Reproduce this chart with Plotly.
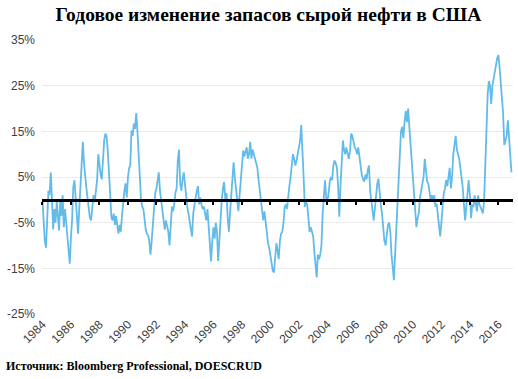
import plotly.graph_objects as go
import pandas as pd

start_year = 1984
# Monthly readings (Jan..Dec) of the y/y change in US crude inventories, %
v1984 = [0, -4, -9, -10.5, -3, 2, 1, 6, 0, -6.5, -2, -5]
v1985 = [-0.5, -4, -6.7, 0, -3.5, 1, -6, -2, -5.5, -8, -11, -14]
v1986 = [-8, -4, 2.8, 4.3, 0.5, -5, -7.4, -2, 4, 8.6, 12.7, 8]
v1987 = [4.5, 2.5, 0.5, -2, -4, -4.5, -1.5, 1, -0.5, 1.5, 4.3, 10]
v1988 = [7, 5.5, 4.5, 9.4, 13, 14.5, 14, 10.8, 7, 1.5, -3.7, -4.5]
v1989 = [-3, -5.5, -3.5, -6, -7.4, -5.5, -7, -3.5, 0, 2, 3.6, 0.5]
v1990 = [5, 7, 7.5, 15.2, 14, 16.7, 15.5, 19, 15, 11, 5, 0]
v1991 = [-1.5, -2, -4.5, -6.5, -7.4, -7.8, -9, -12, -9, -5.5, -2, 1.5]
v1992 = [2.5, 4, 6, 2, 0, -2, -4, -6.5, -4.5, -5.5, -7, -10]
v1993 = [-4, -1.5, -2.5, -1, 1.5, 2.5, 8.6, 11, 3.5, 2, 4.5, 6]
v1994 = [3.5, 0, -1.5, -3, -5, -6.5, -8, -3, -0.5, 0.5, 2, 3]
v1995 = [-1, 0.5, -1, -2, -1.5, -3.5, -4.5, -2, -5.5, -9, -13.5, -9]
v1996 = [-6, -8.5, -5, -7, -13.4, -9, -4, 0, 2.5, 3.9, 0, 1.5]
v1997 = [-4, -7, -3, 1.5, 5, 8.2, 5, 3, 0, -2.5, 1, 4.5]
v1998 = [7.5, 10.8, 9.5, 10.5, 11.5, 9, 10, 12.7, 9, 11, 10, 9.5]
v1999 = [8.5, 7, 4.5, 2, -0.5, -2, -4.5, -2.5, -5, -7, -9.5, -10.5]
v2000 = [-12, -14, -15.5, -15.9, -12, -9.5, -11, -13, -9, -7.4, -7, -5]
v2001 = [-1.5, -1, -2, 1, 3, 5, 7, 10, 9, 7.5, 8.6, 10]
v2002 = [11, 13, 16.4, 12, 5, -1.5, -0.5, -1, -3.5, -7, -6, -7]
v2003 = [-8, -11.5, -14, -17, -12, -13, -12, -10, -3, 2, 4.3, 0.5]
v2004 = [-0.5, 1.5, 4, 5, 4.3, 7.5, 8.6, 8, 7, 3, -3.7, 3]
v2005 = [10, 13, 11, 10, 11.5, 10, 9, 10.5, 14.5, 14, 12.5, 11.5]
v2006 = [11, 10, 11.5, 9, 7.5, 5.5, 4.5, 4, 5.5, 4.5, 6.5, 7.5]
v2007 = [2, 0, -2.5, -4.5, -2, 1, 3.5, 4.6, 1, -1, -3, -6]
v2008 = [-9, -10, -8, -5.5, -5, -7, -12, -16, -17.6, -12, -6, -1.5]
v2009 = [3, 12, 15, 16, 13.5, 17, 19.5, 17, 20, 16, 12, 8]
v2010 = [3.5, 0, -3, -6, -4, -3, 0.5, 2, 3, 5, 9, 6]
v2011 = [4, 3.5, 2, 0, 1, -0.5, 1, -1.5, -0.8, -3.5, -6, -8]
v2012 = [-5, -1, 1.4, 2.5, 4.3, 3, 5.5, 7, 2.5, 5, 10, 12.5]
v2013 = [14, 11, 10, 9, 7, 5, 2.7, -1, -4.5, -1.5, 1, 4.3]
v2014 = [1, -4, -1, -1.6, 1, -1.5, -2.5, 1, -1, -1.6, -2.5, -3]
v2015 = [0, 10, 17, 23, 26, 25, 21, 25, 26.5, 28.5, 29.5, 31]
v2016 = [31.7, 29, 25, 21, 19, 12, 13, 14, 17.4, 14, 10, 6]

yearly = [v1984, v1985, v1986, v1987, v1988, v1989, v1990, v1991, v1992, v1993,
          v1994, v1995, v1996, v1997, v1998, v1999, v2000, v2001, v2002, v2003,
          v2004, v2005, v2006, v2007, v2008, v2009, v2010, v2011, v2012, v2013,
          v2014, v2015, v2016]

values = [v for yr in yearly for v in yr]
dates = pd.date_range(f"{start_year}-01-01", periods=len(values), freq="MS")

y_ticks = [35, 25, 15, 5, -5, -15, -25]
y_tick_labels = ["35%", "25%", "15%", "5%", "-5%", "-15%", "-25%"]

title_text = "<b>Годовое изменение запасов сырой нефти в США</b>"
source_text = "<b>Источник: Bloomberg Professional, DOESCRUD</b>"

fig = go.Figure()
fig.add_trace(go.Scatter(
    x=dates, y=values, mode="lines",
    line=dict(color="#63BBEA", width=1.8),
    xaxis="x", yaxis="y", showlegend=False, hoverinfo="skip",
))
# invisible trace to activate the zero-line axis
fig.add_trace(go.Scatter(
    x=dates[:1], y=[0], mode="markers", marker=dict(opacity=0),
    xaxis="x2", yaxis="y", showlegend=False, hoverinfo="skip",
))

x_range = ["1983-12-20", "2017-01-10"]
fig.update_layout(
    width=518, height=379,
    margin=dict(l=42, r=5, t=40, b=65),
    paper_bgcolor="white", plot_bgcolor="white",
    title=dict(text=title_text, xref="container", x=0.518, xanchor="center",
               y=0.963, yanchor="middle",
               font=dict(family="Liberation Serif, Times New Roman, serif", size=19.5, color="black")),
    xaxis=dict(
        type="date", range=x_range, dtick="M24", tick0="1984-01-01",
        tickformat="%Y", tickangle=-45, showgrid=False, zeroline=False,
        showline=False, ticks="", automargin=False,
        tickfont=dict(family="Liberation Sans, Arial, sans-serif", size=12, color="#404040"),
    ),
    xaxis2=dict(
        type="date", range=x_range, dtick="M24", tick0="1984-01-01",
        overlaying="x", anchor="free", position=25 / 60,
        showline=True, linecolor="black", linewidth=2.5,
        ticks="outside", ticklen=3, tickwidth=2, tickcolor="black",
        showticklabels=False, showgrid=False, zeroline=False,
    ),
    yaxis=dict(
        range=[-25, 35], tickvals=y_ticks, ticktext=y_tick_labels,
        showgrid=True, gridcolor="#EBEBEB", gridwidth=1.2, zeroline=False,
        showline=False, ticks="", ticklabelstandoff=6, automargin=False,
        tickfont=dict(family="Liberation Sans, Arial, sans-serif", size=12, color="#404040"),
    ),
    annotations=[dict(
        text=source_text, xref="paper", yref="paper", x=-0.08, y=-0.19,
        xanchor="left", yanchor="middle", showarrow=False,
        font=dict(family="Liberation Serif, Times New Roman, serif", size=12, color="black"),
    )],
)

fig.write_html(
    "out.html",
    config={"displayModeBar": False},
    post_script="document.body.style.margin='0';document.body.style.overflow='hidden';",
)
